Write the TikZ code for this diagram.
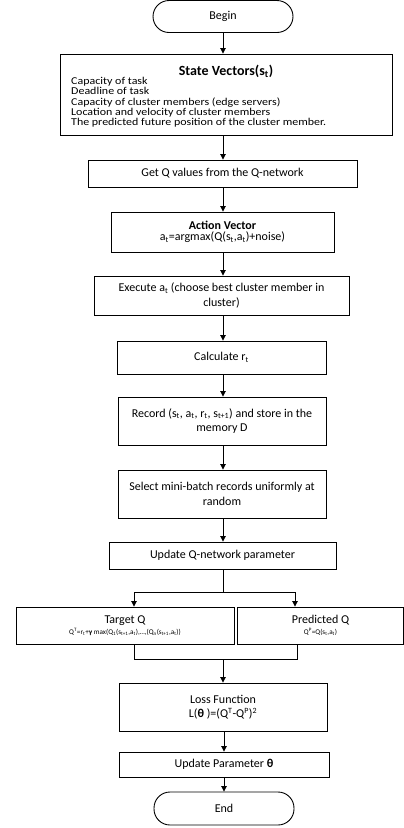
\documentclass[tikz,border=0pt]{standalone}
\usepackage{fontspec}
\setmainfont{Carlito}
\usetikzlibrary{arrows.meta,calc}
\begin{document}
\begin{tikzpicture}[x=1pt,y=-1pt,
  every node/.style={font=\fontsize{12}{14.5}\selectfont},
  box/.style={draw=black,line width=0.9pt,rectangle,inner sep=0pt,align=center},
  term/.style={draw=black,line width=0.9pt,rectangle,rounded corners=16pt,inner sep=0pt,align=center},
  arr/.style={draw=black,line width=0.9pt,-{Triangle[width=5.5pt,length=5.5pt]}},
  ln/.style={draw=black,line width=0.9pt}]
\useasboundingbox (0,0) rectangle (404,828);
\node[term,minimum width=140pt,minimum height=32pt] (begin) at (223,16.5) {Begin};
\node[box,minimum width=332pt,minimum height=81pt] (state) at (226,94.5) {};
\node[inner sep=0pt,font=\fontsize{14}{16}\selectfont\bfseries,anchor=base] (stitle) at (226,75) {State Vectors(s\textsubscript{t})};
\node[inner sep=0pt,anchor=base west,align=left] (slist) at (71,84)
 {\resizebox{255pt}{\height}{\fontsize{10.5}{10.1}\selectfont\renewcommand\arraystretch{1}%
  \begin{tabular}[t]{@{}l@{}}
  Capacity of task\\Deadline of task\\Capacity of cluster members (edge servers)\\Location and velocity of cluster members\\The predicted future position of the cluster member.
  \end{tabular}}};
\node[box,minimum width=269pt,minimum height=27pt] (getq) at (222.5,173.5) {Get Q values from the Q-network};
\node[box,minimum width=223pt,minimum height=40pt] (action) at (222.5,232)
 {{\bfseries Action Vector}\\[-3pt]a\textsubscript{t}=argmax(Q(s\textsubscript{t},a\textsubscript{t})+noise)};
\node[box,minimum width=255pt,minimum height=39pt] (exec) at (221.5,295.5)
 {Execute a\textsubscript{t} (choose best cluster member in\\cluster)};
\node[box,minimum width=209pt,minimum height=33pt] (calc) at (221.5,357.5) {Calculate r\textsubscript{t}};
\node[box,minimum width=208pt,minimum height=48pt] (record) at (222,421)
 {Record (s\textsubscript{t}, a\textsubscript{t}, r\textsubscript{t}, s\textsubscript{t+1}) and store in the\\memory D};
\node[box,minimum width=208pt,minimum height=48pt] (select) at (222,494)
 {Select mini-batch records uniformly at\\random};
\node[box,minimum width=227pt,minimum height=27pt] (upd) at (222.5,555.5) {Update Q-network parameter};
\node[box,minimum width=218pt,minimum height=37pt] (target) at (125,625.5)
 {Target Q\\[-3pt]{\fontsize{7.2}{8}\selectfont Q\textsuperscript{T}=r\textsubscript{t}+\textbf{γ} max(Q\textsubscript{1}(s\textsubscript{t+1},a\textsubscript{t}),…,(Q\textsubscript{n}(s\textsubscript{t+1},a\textsubscript{t}))}};
\node[box,minimum width=166pt,minimum height=37pt] (pred) at (320.5,625.5)
 {Predicted Q\\[-3pt]{\fontsize{7.2}{8}\selectfont Q\textsuperscript{P}=Q(s\textsubscript{t},a\textsubscript{t})}};
\node[box,minimum width=208pt,minimum height=48pt] (loss) at (223,707)
 {Loss Function\\L(\textbf{θ} )=(Q\textsuperscript{T}-Q\textsuperscript{P})\textsuperscript{2}};
\node[box,minimum width=210pt,minimum height=25pt] (updp) at (224,764.5) {Update Parameter \textbf{θ}};
\node[term,minimum width=140pt,minimum height=33pt] (end) at (224,808.5) {End};
\coordinate (sp) at (223,592);
\coordinate (tl) at (134,592);
\coordinate (pr) at (295,592);
\coordinate (mg) at (223,659);
\coordinate (tb) at (134,659);
\coordinate (pb) at (297,659);
\draw[arr] (begin.south -| 223,0) -- (223,0 |- state.north);
\draw[arr] (state.south -| 223,0) -- (223,0 |- getq.north);
\draw[arr] (getq.south -| 223,0) -- (223,0 |- action.north);
\draw[arr] (action.south -| 223,0) -- (223,0 |- exec.north);
\draw[arr] (exec.south -| 223,0) -- (223,0 |- calc.north);
\draw[arr] (calc.south -| 223,0) -- (223,0 |- record.north);
\draw[arr] (record.south -| 223,0) -- (223,0 |- select.north);
\draw[arr] (select.south -| 223,0) -- (223,0 |- upd.north);
\draw[ln] (upd.south -| sp) -- (sp);
\draw[arr] (sp) -| (tl |- target.north);
\draw[arr] (sp) -| (pr |- pred.north);
\draw[ln] (tb |- target.south) -- (tb) -- (pb) -- (pb |- pred.south);
\draw[arr] (mg) -- (mg |- loss.north);
\draw[arr] (loss.south -| 224,0) -- (224,0 |- updp.north);
\draw[arr] (updp.south -| 224,0) -- (224,0 |- end.north);
\end{tikzpicture}
\end{document}
